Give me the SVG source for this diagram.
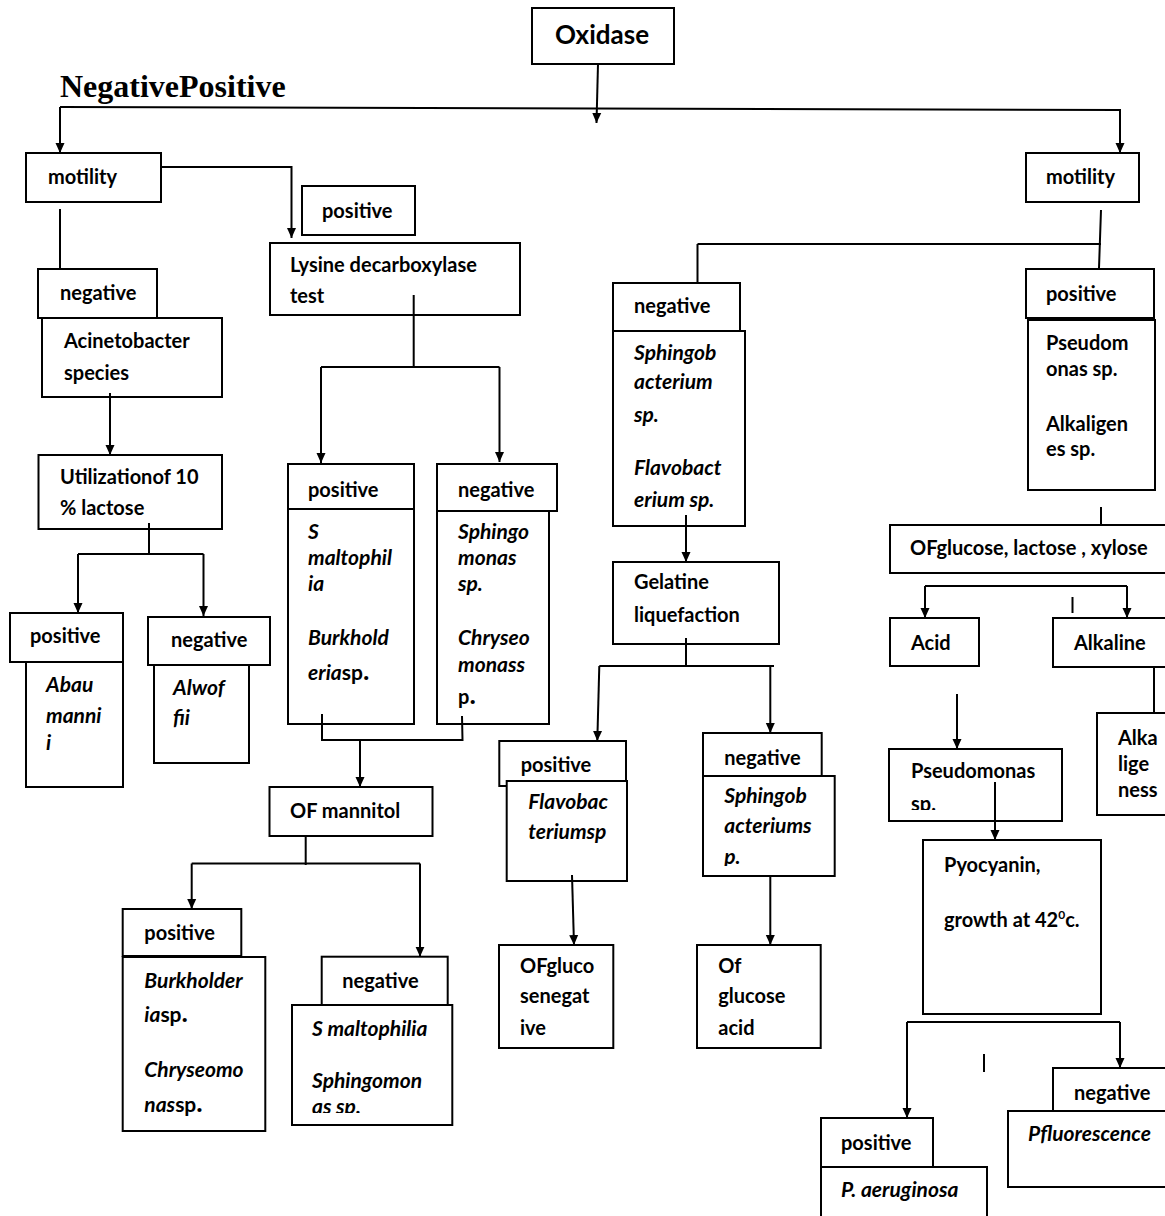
<svg xmlns="http://www.w3.org/2000/svg" width="1165" height="1216" viewBox="0 0 1165 1216">
<style>
.b{fill:#fff;stroke:#000;stroke-width:2}
.t{font-family:Lato,"Liberation Sans",sans-serif;font-weight:bold;font-size:20px;fill:#000}
.i{font-style:italic;font-size:21px}
.u{font-style:normal}
.c{fill:none;stroke:#000;stroke-width:2}
.a{marker-end:url(#ah)}
</style>
<defs>
<marker id="ah" viewBox="0 0 10 10" refX="10" refY="5" markerWidth="10" markerHeight="10" markerUnits="userSpaceOnUse" orient="auto">
<path d="M0,0.5 L10,5 L0,9.5 z" fill="#000"/>
</marker>
<clipPath id="cp1"><rect x="700" y="770" width="140" height="96"/></clipPath>
<clipPath id="cp2"><rect x="290" y="1000" width="170" height="113"/></clipPath>
<clipPath id="cp3"><rect x="885" y="745" width="180" height="65"/></clipPath>
</defs>
<rect width="1165" height="1216" fill="#fff"/>

<g id="oxidase"><rect class="b" x="532" y="8" width="142" height="56"/><text class="t" x="555" y="44" style="font-size:26px">Oxidase</text></g>
<g id="negpos"><text x="60" y="97" style="font-family:'Liberation Serif',serif;font-weight:bold;font-size:32px">NegativePositive</text></g>

<g id="motility-left"><rect class="b" x="26" y="153" width="135" height="49"/><text class="t" x="48" y="184">motility</text></g>
<g id="positive-top"><rect class="b" x="302" y="186" width="113" height="49"/><text class="t" x="322" y="218">positive</text></g>
<g id="lysine"><rect class="b" x="270" y="243" width="250" height="72"/><text class="t" x="290" y="272">Lysine decarboxylase</text><text class="t" x="290" y="303">test</text></g>
<g id="negative-left"><rect class="b" x="38" y="269" width="119" height="49"/><text class="t" x="60" y="300">negative</text></g>
<g id="acinetobacter"><rect class="b" x="42" y="318" width="180" height="79"/><text class="t" x="64" y="348">Acinetobacter</text><text class="t" x="64" y="380">species</text></g>
<g id="utilization"><rect class="b" x="38.5" y="455" width="183.5" height="74"/><text class="t" x="60" y="484">Utilizationof 10</text><text class="t" x="60" y="515">% lactose</text></g>

<g id="positive-abau"><rect class="b" x="10" y="613" width="113" height="49"/><text class="t" x="30" y="643">positive</text><rect class="b" x="26" y="662" width="97" height="125"/><text class="t i" x="46" y="692">Abau</text><text class="t i" x="46" y="723">manni</text><text class="t i" x="46" y="750">i</text></g>
<g id="negative-alwof"><rect class="b" x="148" y="617" width="122" height="48"/><text class="t" x="171" y="647">negative</text><rect class="b" x="154" y="665" width="95" height="98"/><text class="t i" x="173" y="695">Alwof</text><text class="t i" x="173" y="725">fii</text></g>

<g id="lysine-positive"><rect class="b" x="288" y="464" width="126" height="45"/><text class="t" x="308" y="497">positive</text><rect class="b" x="288" y="509" width="126" height="215"/><text class="t i" x="308" y="539">S</text><text class="t i" x="308" y="565">maltophil</text><text class="t i" x="308" y="591">ia</text><text class="t i" x="308" y="645">Burkhold</text><text class="t i" x="308" y="680">eria<tspan class="u">sp</tspan><tspan class="u" style="font-size:27px">.</tspan></text></g>
<g id="lysine-negative"><rect class="b" x="437" y="464" width="120" height="47"/><text class="t" x="458" y="497">negative</text><rect class="b" x="437" y="511" width="112" height="213"/><text class="t i" x="458" y="539">Sphingo</text><text class="t i" x="458" y="565">monas</text><text class="t i" x="458" y="591">sp.</text><text class="t i" x="458" y="645">Chryseo</text><text class="t i" x="458" y="672">monass</text><text class="t" x="458" y="704">p<tspan style="font-size:27px">.</tspan></text></g>

<g id="of-mannitol"><rect class="b" x="269.5" y="787" width="163" height="49"/><text class="t" x="290" y="818">OF mannitol</text></g>
<g id="positive-burk"><rect class="b" x="122.7" y="909" width="118.6" height="47"/><text class="t" x="144.3" y="940">positive</text><rect class="b" x="122.7" y="957" width="142.6" height="174"/><text class="t i" x="144.3" y="988">Burkholder</text><text class="t i" x="144.3" y="1022">ia<tspan class="u">sp</tspan><tspan class="u" style="font-size:27px">.</tspan></text><text class="t i" x="144.3" y="1077">Chryseomo</text><text class="t i" x="144.3" y="1112">nas<tspan class="u">sp</tspan><tspan class="u" style="font-size:27px">.</tspan></text></g>
<g id="negative-smalt"><rect class="b" x="321.7" y="956.7" width="126" height="48.3"/><text class="t" x="342.3" y="988">negative</text><rect class="b" x="292" y="1005" width="160.3" height="120"/><text class="t i" x="312" y="1036">S maltophilia</text><text class="t i" x="312" y="1088">Sphingomon</text><text class="t i" x="312" y="1114" clip-path="url(#cp2)">as sp.</text></g>

<g id="negative-mid"><rect class="b" x="613" y="283" width="127" height="48"/><text class="t" x="634" y="313">negative</text><rect class="b" x="613" y="331" width="132" height="195"/><text class="t i" x="634" y="360">Sphingob</text><text class="t i" x="634" y="389">acterium</text><text class="t i" x="634" y="422">sp.</text><text class="t i" x="634" y="475">Flavobact</text><text class="t i" x="634" y="507">erium sp.</text></g>
<g id="gelatine"><rect class="b" x="613" y="562" width="166" height="82"/><text class="t" x="634" y="589">Gelatine</text><text class="t" x="634" y="622">liquefaction</text></g>
<g id="positive-flavo"><rect class="b" x="499.3" y="741" width="126.7" height="45"/><text class="t" x="520.7" y="772">positive</text><rect class="b" x="506.7" y="781" width="120.3" height="100"/><text class="t i" x="528.3" y="809">Flavobac</text><text class="t i" x="528.3" y="839">teriumsp</text></g>
<g id="negative-sphingob"><rect class="b" x="703" y="733" width="118.7" height="43"/><text class="t" x="724.3" y="765">negative</text><rect class="b" x="703" y="776" width="131.7" height="100"/><text class="t i" x="724.3" y="803">Sphingob</text><text class="t i" x="724.3" y="833">acteriums</text><text class="t i" x="724.3" y="864" clip-path="url(#cp1)">p.</text></g>
<g id="ofgluco-neg"><rect class="b" x="499" y="945" width="114.3" height="103"/><text class="t" x="520" y="973">OFgluco</text><text class="t" x="520" y="1003">senegat</text><text class="t" x="520" y="1035">ive</text></g>
<g id="ofgluco-acid"><rect class="b" x="697" y="945" width="123.7" height="103"/><text class="t" x="718.3" y="973">Of</text><text class="t" x="718.3" y="1003">glucose</text><text class="t" x="718.3" y="1035">acid</text></g>

<g id="motility-right"><rect class="b" x="1026" y="153" width="113" height="49"/><text class="t" x="1046" y="184">motility</text></g>
<g id="positive-right"><rect class="b" x="1026" y="269" width="128" height="49"/><text class="t" x="1046" y="301">positive</text><rect class="b" x="1028" y="320" width="127" height="170"/><text class="t" x="1046" y="350">Pseudom</text><text class="t" x="1046" y="376">onas sp.</text><text class="t" x="1046" y="431">Alkaligen</text><text class="t" x="1046" y="456">es sp.</text></g>
<g id="ofglucose"><rect class="b" x="890" y="525" width="290" height="48"/><text class="t" x="910" y="555">OFglucose, lactose , xylose</text></g>
<g id="acid"><rect class="b" x="890" y="618" width="89" height="48"/><text class="t" x="911" y="650">Acid</text></g>
<g id="alkaline"><rect class="b" x="1053" y="618" width="130" height="49"/><text class="t" x="1074" y="650">Alkaline</text></g>
<g id="alkaligness"><rect class="b" x="1097" y="713" width="90" height="102"/><text class="t" x="1118" y="745">Alka</text><text class="t" x="1118" y="771">lige</text><text class="t" x="1118" y="797">ness</text></g>
<g id="pseudomonas"><rect class="b" x="889" y="749" width="173" height="72"/><text class="t" x="911" y="778">Pseudomonas</text><text class="t" x="911" y="811" clip-path="url(#cp3)">sp.</text></g>
<g id="pyocyanin"><rect class="b" x="923" y="840" width="178" height="174"/><text class="t" x="944" y="872">Pyocyanin,</text><text class="t" x="944" y="927">growth at 42<tspan dy="-8" style="font-size:12px">0</tspan><tspan dy="8">c.</tspan></text></g>
<g id="positive-paer"><rect class="b" x="821" y="1118" width="112" height="49"/><text class="t" x="841" y="1150">positive</text><rect class="b" x="821" y="1167" width="166" height="70"/><text class="t i" x="841" y="1197">P. aeruginosa</text></g>
<g id="negative-pfl"><rect class="b" x="1053" y="1068" width="130" height="43"/><text class="t" x="1074" y="1100">negative</text><rect class="b" x="1008" y="1111" width="175" height="76"/><text class="t i" x="1028" y="1141">Pfluorescence</text></g>

<g id="connectors">
<path class="c a" d="M598,64 L596.5,123"/>
<path class="c a" d="M60,107 L1120,110 L1120,153"/>
<path class="c a" d="M60,107 L60,153"/>
<path class="c a" d="M161,167 L291.5,167 L291.5,238"/>
<path class="c" d="M60,209 L60,269"/>
<path class="c" d="M413.7,295 L413.7,367 M321,367 L499.5,367"/>
<path class="c a" d="M321,367 L321,463"/>
<path class="c a" d="M499.5,367 L499.5,462"/>
<path class="c a" d="M110,393 L110,455"/>
<path class="c" d="M149,523 L149,554 M78,554 L203.5,554"/>
<path class="c a" d="M78,554 L78,613"/>
<path class="c a" d="M203.5,554 L203.5,616"/>
<path class="c" d="M322,714 L322,740 L462.5,740 L462,716"/>
<path class="c a" d="M360,740 L360,787"/>
<path class="c" d="M305.7,836 L305.7,865 M191.7,863.5 L420,863.5"/>
<path class="c a" d="M191.7,863.5 L191.7,909"/>
<path class="c a" d="M420,863.5 L420,956.7"/>
<path class="c" d="M1101,210 L1099,268 M697.5,244 L1101,244 M697.5,244 L697.5,283"/>
<path class="c a" d="M686,515 L686,562"/>
<path class="c" d="M686,638 L686,666 M599.3,666 L774,666"/>
<path class="c a" d="M599.3,666 L597.3,741"/>
<path class="c a" d="M770.3,666 L770.3,733"/>
<path class="c a" d="M572,875 L574,945"/>
<path class="c a" d="M770.3,876 L770.3,945"/>
<path class="c" d="M1101,507 L1101,525"/>
<path class="c" d="M925,586 L1127,586"/>
<path class="c a" d="M925,586 L925,618"/>
<path class="c a" d="M1127,586 L1127,618"/>
<path class="c" d="M1072.5,597 L1072.5,613"/>
<path class="c a" d="M957,694 L957,749"/>
<path class="c" d="M1154,667 L1154,713"/>
<path class="c a" d="M995,782 L995,840"/>
<path class="c" d="M907,1022 L1120,1022"/>
<path class="c a" d="M907,1022 L907,1118"/>
<path class="c a" d="M1120,1022 L1120,1068"/>
<path class="c" d="M984,1054 L984,1072"/>
</g>
</svg>
